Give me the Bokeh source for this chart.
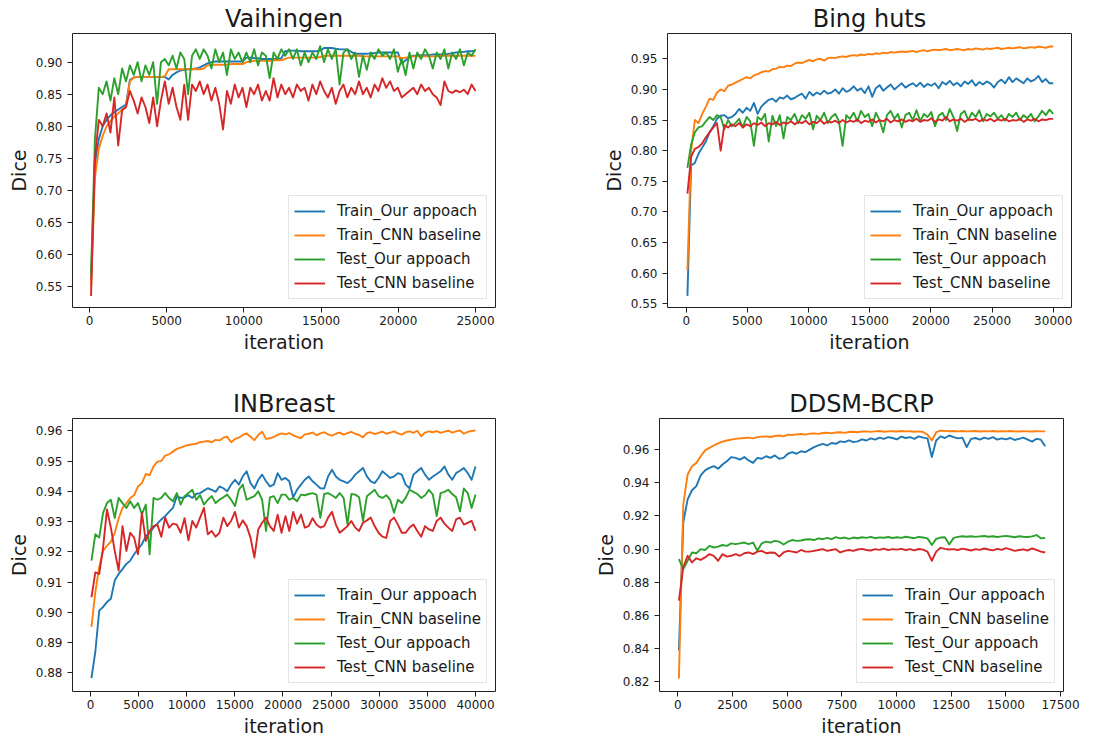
import numpy as np
from bokeh.plotting import figure
from bokeh.layouts import column, row
from bokeh.models import Range1d, FixedTicker, NumeralTickFormatter, Legend, LegendItem
from bokeh.embed import file_html
from bokeh.resources import INLINE

# ---------------- data ----------------
LABELS = ["Train_Our appoach", "Train_CNN baseline", "Test_Our appoach", "Test_CNN baseline"]
COLORS = ["#1f77b4", "#ff7f0e", "#2ca02c", "#d62728"]

# Vaihingen (iterations 100 .. 25000)
VAI_ITER = (100, 25000)
VAI_TRAIN_OUR = [0.56, 0.74, 0.78, 0.80, 0.81, 0.817, 0.822, 0.826, 0.83, 0.834,
                 0.872, 0.876, 0.877, 0.877, 0.877, 0.877, 0.877, 0.877, 0.877, 0.877,
                 0.873, 0.88, 0.884, 0.887, 0.888, 0.889, 0.889, 0.89, 0.892, 0.895,
                 0.898, 0.9, 0.901, 0.901, 0.901, 0.901, 0.901, 0.901, 0.901, 0.901,
                 0.907, 0.907, 0.906, 0.906, 0.905, 0.905, 0.905, 0.905, 0.905, 0.906,
                 0.917, 0.918, 0.918, 0.918, 0.917, 0.917, 0.917, 0.917, 0.917, 0.918,
                 0.922, 0.922, 0.922, 0.921, 0.92, 0.92, 0.92, 0.916, 0.913, 0.913,
                 0.913, 0.913, 0.914, 0.914, 0.915, 0.915, 0.915, 0.915, 0.915, 0.915,
                 0.898, 0.903, 0.908, 0.91, 0.91, 0.911, 0.911, 0.911, 0.912, 0.912,
                 0.912, 0.912, 0.913, 0.914, 0.915, 0.916, 0.916, 0.917, 0.917, 0.918]
VAI_TRAIN_CNN = [0.55, 0.72, 0.765, 0.785, 0.80, 0.808, 0.815, 0.82, 0.826, 0.83,
                 0.87, 0.876, 0.877, 0.877, 0.877, 0.877, 0.877, 0.877, 0.877, 0.878,
                 0.889, 0.889, 0.889, 0.889, 0.889, 0.889, 0.889, 0.889, 0.889, 0.89,
                 0.895, 0.896, 0.896, 0.896, 0.896, 0.896, 0.897, 0.897, 0.897, 0.897,
                 0.9, 0.901, 0.902, 0.902, 0.902, 0.902, 0.902, 0.903, 0.903, 0.903,
                 0.905, 0.907, 0.907, 0.907, 0.907, 0.907, 0.907, 0.907, 0.907, 0.908,
                 0.91, 0.91, 0.91, 0.91, 0.91, 0.91, 0.91, 0.91, 0.91, 0.91,
                 0.909, 0.909, 0.909, 0.909, 0.909, 0.909, 0.909, 0.909, 0.909, 0.909,
                 0.906, 0.907, 0.908, 0.909, 0.909, 0.909, 0.909, 0.909, 0.909, 0.909,
                 0.91, 0.91, 0.91, 0.91, 0.91, 0.91, 0.91, 0.91, 0.91, 0.91]
VAI_TEST_OUR = [0.57, 0.78, 0.86, 0.85, 0.87, 0.84, 0.875, 0.85, 0.89, 0.87,
                0.895, 0.88, 0.90, 0.87, 0.895, 0.88, 0.90, 0.835, 0.90, 0.905,
                0.895, 0.91, 0.89, 0.915, 0.905, 0.85, 0.91, 0.92, 0.905, 0.92,
                0.91, 0.89, 0.92, 0.90, 0.915, 0.88, 0.92, 0.905, 0.915, 0.90,
                0.915, 0.90, 0.92, 0.895, 0.915, 0.91, 0.875, 0.915, 0.905, 0.92,
                0.91, 0.92, 0.905, 0.92, 0.895, 0.915, 0.90, 0.915, 0.905, 0.925,
                0.90, 0.92, 0.905, 0.92, 0.865, 0.915, 0.92, 0.905, 0.915, 0.877,
                0.91, 0.888, 0.915, 0.905, 0.92, 0.91, 0.915, 0.905, 0.92, 0.885,
                0.905, 0.88, 0.915, 0.89, 0.915, 0.905, 0.92, 0.91, 0.89, 0.915,
                0.905, 0.92, 0.89, 0.915, 0.905, 0.92, 0.895, 0.915, 0.91, 0.92]
VAI_TEST_CNN = [0.535, 0.75, 0.81, 0.80, 0.82, 0.79, 0.845, 0.77, 0.825, 0.83,
                0.855, 0.84, 0.82, 0.845, 0.83, 0.805, 0.845, 0.80, 0.84, 0.87,
                0.835, 0.86, 0.83, 0.81, 0.865, 0.81, 0.865, 0.855, 0.87, 0.85,
                0.865, 0.84, 0.86, 0.835, 0.795, 0.855, 0.835, 0.865, 0.845, 0.86,
                0.83, 0.86, 0.85, 0.865, 0.84, 0.855, 0.84, 0.875, 0.845, 0.865,
                0.85, 0.86, 0.845, 0.865, 0.855, 0.86, 0.84, 0.865, 0.85, 0.87,
                0.855, 0.845, 0.86, 0.835, 0.855, 0.865, 0.845, 0.86, 0.85, 0.87,
                0.85, 0.86, 0.845, 0.865, 0.855, 0.875, 0.86, 0.87, 0.855, 0.86,
                0.845, 0.85, 0.855, 0.86, 0.85, 0.865, 0.855, 0.86, 0.85, 0.845,
                0.833, 0.87, 0.855, 0.852, 0.856, 0.853, 0.857, 0.85, 0.865, 0.855]

# Bing huts (iterations 100 .. 30000)
BING_ITER = (100, 30000)
BING_TRAIN_OUR = [0.563, 0.776, 0.78, 0.795, 0.805, 0.815, 0.83, 0.84, 0.852, 0.857,
                  0.858, 0.853, 0.855, 0.86, 0.868, 0.862, 0.87, 0.865, 0.878, 0.86,
                  0.872, 0.878, 0.883, 0.885, 0.88, 0.887, 0.885, 0.89, 0.884, 0.886,
                  0.89, 0.893, 0.885, 0.896, 0.89, 0.895, 0.892, 0.898, 0.893, 0.895,
                  0.9, 0.893, 0.902, 0.896, 0.899, 0.905, 0.898, 0.902, 0.894, 0.905,
                  0.888, 0.902, 0.907, 0.898, 0.903, 0.908, 0.9, 0.905, 0.91, 0.903,
                  0.907, 0.91, 0.905, 0.911, 0.904, 0.909, 0.906, 0.91, 0.902, 0.912,
                  0.908, 0.914, 0.907, 0.911, 0.905, 0.913, 0.909, 0.915, 0.906, 0.912,
                  0.908, 0.913, 0.91, 0.903, 0.912, 0.916, 0.91, 0.92, 0.912, 0.918,
                  0.914, 0.91, 0.918, 0.913, 0.916, 0.922, 0.912, 0.917, 0.91, 0.91]
BING_TRAIN_CNN = [0.605, 0.80, 0.85, 0.845, 0.86, 0.872, 0.885, 0.883, 0.895, 0.90,
                  0.897, 0.906, 0.908, 0.911, 0.914, 0.917, 0.92, 0.918, 0.923, 0.925,
                  0.928, 0.93, 0.929, 0.933, 0.934, 0.937, 0.936, 0.939, 0.938, 0.942,
                  0.944, 0.943, 0.946, 0.948, 0.946, 0.949, 0.95, 0.947, 0.951, 0.952,
                  0.951, 0.953, 0.954, 0.953, 0.955, 0.956, 0.955, 0.957, 0.956, 0.958,
                  0.957, 0.959, 0.958, 0.96, 0.959, 0.961, 0.96, 0.961, 0.962, 0.961,
                  0.962, 0.963, 0.961, 0.963, 0.964, 0.962, 0.964, 0.965, 0.964, 0.965,
                  0.966, 0.964, 0.965, 0.966, 0.965, 0.964, 0.966, 0.965, 0.967, 0.966,
                  0.965, 0.967, 0.966, 0.967, 0.968, 0.966, 0.967, 0.968, 0.967, 0.968,
                  0.969, 0.967, 0.968, 0.969, 0.968, 0.97, 0.969, 0.968, 0.97, 0.97]
BING_TEST_OUR = [0.772, 0.81, 0.83, 0.838, 0.84, 0.848, 0.855, 0.85, 0.858, 0.855,
                 0.835, 0.85, 0.84, 0.845, 0.852, 0.838, 0.855, 0.848, 0.808, 0.855,
                 0.85, 0.86, 0.815, 0.857, 0.84, 0.858, 0.82, 0.855, 0.85, 0.86,
                 0.845, 0.858, 0.852, 0.862, 0.835, 0.857, 0.85, 0.862, 0.845, 0.855,
                 0.86, 0.848, 0.808, 0.858, 0.852, 0.862, 0.848, 0.865, 0.855, 0.86,
                 0.84, 0.862, 0.85, 0.83, 0.858, 0.865, 0.852, 0.86, 0.838, 0.858,
                 0.862, 0.85, 0.866, 0.848, 0.86, 0.855, 0.863, 0.84, 0.857, 0.862,
                 0.85, 0.868, 0.855, 0.832, 0.86, 0.865, 0.85, 0.862, 0.855, 0.866,
                 0.848, 0.86, 0.856, 0.862, 0.852, 0.858, 0.849, 0.86, 0.855, 0.862,
                 0.85, 0.858, 0.853, 0.86, 0.848, 0.856, 0.865, 0.858, 0.867, 0.86]
BING_TEST_CNN = [0.73, 0.79, 0.803, 0.806, 0.812, 0.822, 0.83, 0.838, 0.845, 0.80,
                 0.842, 0.838, 0.843, 0.84, 0.845, 0.838, 0.843, 0.84, 0.845, 0.842,
                 0.846, 0.84, 0.845, 0.843, 0.847, 0.842, 0.846, 0.844, 0.848, 0.843,
                 0.847, 0.845, 0.849, 0.843, 0.847, 0.845, 0.85, 0.844, 0.848, 0.846,
                 0.849, 0.845, 0.85, 0.846, 0.849, 0.847, 0.851, 0.845, 0.849, 0.847,
                 0.851, 0.846, 0.85, 0.848, 0.852, 0.846, 0.85, 0.848, 0.851, 0.847,
                 0.85, 0.848, 0.852, 0.847, 0.85, 0.849, 0.853, 0.847, 0.851, 0.849,
                 0.855, 0.848, 0.851, 0.849, 0.852, 0.847, 0.851, 0.85, 0.852, 0.848,
                 0.851, 0.849, 0.852, 0.848, 0.851, 0.849, 0.852, 0.848, 0.85, 0.849,
                 0.852, 0.847, 0.851, 0.849, 0.852, 0.848, 0.851, 0.85, 0.852, 0.852]

# INBreast (iterations 100 .. 40000)
INB_ITER = (100, 40000)
INB_TRAIN_OUR = [0.8783, 0.887, 0.9006, 0.9018, 0.9034, 0.9045, 0.9105, 0.9127, 0.9143, 0.916,
                 0.9171, 0.9192, 0.9209, 0.9225, 0.9252, 0.9263, 0.928, 0.9293, 0.9307, 0.9318,
                 0.9332, 0.9345, 0.9384, 0.9378, 0.938, 0.9387, 0.9378, 0.9391, 0.9394, 0.9402,
                 0.941, 0.9405, 0.9398, 0.9416, 0.941, 0.94, 0.9422, 0.9438, 0.9422, 0.9449,
                 0.9466, 0.9427, 0.9409, 0.9438, 0.9455, 0.9433, 0.9416, 0.9422, 0.946, 0.9438,
                 0.9444, 0.9433, 0.938, 0.9405, 0.9422, 0.9438, 0.9449, 0.9433, 0.9422, 0.941,
                 0.9409, 0.9449, 0.9471, 0.9449, 0.9438, 0.9433, 0.9427, 0.9438, 0.9455, 0.9466,
                 0.9477, 0.9449, 0.9433, 0.9427, 0.9444, 0.9466, 0.9455, 0.9444, 0.9449, 0.946,
                 0.9455, 0.9422, 0.941, 0.9455, 0.9466, 0.9477, 0.9455, 0.9438, 0.9449, 0.9457,
                 0.9466, 0.9482, 0.9455, 0.9438, 0.946, 0.9468, 0.9477, 0.946, 0.9438, 0.9482]
INB_TRAIN_CNN = [0.8952, 0.9067, 0.915, 0.9203, 0.922, 0.9234, 0.9263, 0.931, 0.9345, 0.936,
                 0.9378, 0.9387, 0.9416, 0.9427, 0.9457, 0.9453, 0.9482, 0.9498, 0.95, 0.9518,
                 0.9522, 0.9531, 0.954, 0.9544, 0.9549, 0.9553, 0.9555, 0.9557, 0.9562, 0.9564,
                 0.9566, 0.9562, 0.957, 0.9568, 0.9577, 0.958, 0.9562, 0.9573, 0.9577, 0.9586,
                 0.9591, 0.958, 0.9569, 0.9586, 0.9597, 0.9573, 0.9575, 0.958, 0.9586, 0.9591,
                 0.9588, 0.9592, 0.9585, 0.958, 0.9576, 0.9588, 0.959, 0.9594, 0.9585, 0.9591,
                 0.9595, 0.9588, 0.9584, 0.959, 0.9594, 0.9587, 0.9592, 0.9596, 0.959, 0.9586,
                 0.9578, 0.9592, 0.9595, 0.9589, 0.9593, 0.9597, 0.959, 0.9594, 0.9598, 0.9591,
                 0.9587, 0.9595, 0.9598, 0.9593, 0.96, 0.9582, 0.9594, 0.9598, 0.9595, 0.9599,
                 0.9593, 0.9597, 0.96, 0.9594, 0.9598, 0.9601, 0.959, 0.9596, 0.9599, 0.9601]
INB_TEST_OUR = [0.9171, 0.9258, 0.9247, 0.9329, 0.9361, 0.9372, 0.9312, 0.9378, 0.9361, 0.9345,
                0.9367, 0.9345, 0.9361, 0.9324, 0.9356, 0.9192, 0.9378, 0.9372, 0.9378, 0.9394,
                0.9378, 0.9367, 0.9394, 0.9356, 0.9384, 0.9394, 0.9405, 0.9372, 0.9387, 0.9356,
                0.9372, 0.9384, 0.9361, 0.9372, 0.938, 0.9389, 0.9372, 0.9351, 0.9405, 0.9422,
                0.9372, 0.9378, 0.9384, 0.94, 0.9372, 0.9269, 0.938, 0.9384, 0.9361, 0.9389,
                0.9389, 0.9372, 0.9378, 0.9367, 0.9389, 0.9387, 0.9391, 0.9394, 0.9389, 0.9312,
                0.9391, 0.9394, 0.9387, 0.9378, 0.9394, 0.9378, 0.9291, 0.9391, 0.9389, 0.938,
                0.9302, 0.9384, 0.9394, 0.9405, 0.9384, 0.9378, 0.9387, 0.9372, 0.9329, 0.9372,
                0.9361, 0.9378, 0.9405, 0.9398, 0.9391, 0.9378, 0.9387, 0.9405, 0.9389, 0.9318,
                0.9394, 0.9398, 0.9405, 0.9391, 0.938, 0.9334, 0.9409, 0.9394, 0.9345, 0.9389]
INB_TEST_CNN = [0.905, 0.9132, 0.9127, 0.9214, 0.934, 0.928, 0.9203, 0.9138, 0.9285, 0.9203,
                0.9263, 0.9247, 0.9192, 0.9329, 0.9236, 0.9269, 0.9285, 0.929, 0.925, 0.9313,
                0.928, 0.9293, 0.929, 0.9263, 0.9311, 0.9238, 0.9302, 0.928, 0.9313, 0.9345,
                0.9258, 0.9269, 0.925, 0.9263, 0.9313, 0.9285, 0.9302, 0.9332, 0.928, 0.9304,
                0.9285, 0.9247, 0.9181, 0.9274, 0.9296, 0.9313, 0.9285, 0.9269, 0.9323, 0.9263,
                0.9318, 0.9269, 0.9332, 0.9293, 0.9323, 0.928, 0.9285, 0.9311, 0.929, 0.928,
                0.9285, 0.9313, 0.9332, 0.929, 0.9263, 0.9274, 0.9285, 0.9302, 0.928, 0.9269,
                0.9296, 0.9304, 0.9313, 0.9285, 0.9263, 0.925, 0.9246, 0.9302, 0.9313, 0.929,
                0.9263, 0.9263, 0.928, 0.929, 0.9269, 0.925, 0.9285, 0.9274, 0.9269, 0.9302,
                0.9313, 0.9293, 0.928, 0.9269, 0.9307, 0.9313, 0.929, 0.9296, 0.9302, 0.9269]

# DDSM-BCRP (iterations 50 .. 16800)
DDSM_ITER = (50, 16800)
DDSM_TRAIN_OUR = [0.839, 0.916, 0.93, 0.9355, 0.938, 0.9445, 0.9475, 0.949, 0.95, 0.9485,
                  0.951, 0.953, 0.9555, 0.955, 0.954, 0.9555, 0.9535, 0.952, 0.955, 0.9545,
                  0.956, 0.955, 0.9565, 0.9545, 0.955, 0.9575, 0.9585, 0.9575, 0.959, 0.9585,
                  0.96, 0.9615, 0.9625, 0.9635, 0.9625, 0.964, 0.9635, 0.965, 0.9645, 0.9655,
                  0.9645, 0.965, 0.9662, 0.9655, 0.9668, 0.966, 0.9672, 0.9665, 0.9675, 0.967,
                  0.9662, 0.9678, 0.967, 0.9675, 0.9665, 0.968, 0.9672, 0.9668, 0.9555, 0.9655,
                  0.968, 0.967, 0.9685, 0.9675, 0.9668, 0.9672, 0.9615, 0.9665, 0.967, 0.966,
                  0.9672, 0.9665, 0.9675, 0.966, 0.9668, 0.9662, 0.967, 0.9658, 0.9665, 0.9672,
                  0.966, 0.9648, 0.9665, 0.966, 0.962]
DDSM_TRAIN_CNN = [0.822, 0.927, 0.945, 0.95, 0.952, 0.956, 0.9595, 0.961, 0.9625, 0.9638,
                  0.9648, 0.9655, 0.966, 0.9665, 0.9668, 0.967, 0.9672, 0.9668, 0.9675, 0.9678,
                  0.968, 0.9676, 0.9682, 0.9685, 0.968, 0.969, 0.9688, 0.9692, 0.9694, 0.969,
                  0.9696, 0.9698, 0.9695, 0.97, 0.9702, 0.9698, 0.9703, 0.9705, 0.9701, 0.9706,
                  0.9708, 0.9705, 0.9709, 0.971, 0.9707, 0.971, 0.9712, 0.9708, 0.971, 0.9711,
                  0.9709, 0.9712, 0.971, 0.9711, 0.9708, 0.971, 0.9706, 0.969, 0.9655, 0.9705,
                  0.9714, 0.9713, 0.9711, 0.9712, 0.971, 0.9712, 0.971, 0.9711, 0.9712, 0.9709,
                  0.9711, 0.971, 0.9712, 0.9709, 0.9711, 0.971, 0.9712, 0.971, 0.9709, 0.9711,
                  0.971, 0.9709, 0.9711, 0.971, 0.971]
DDSM_TEST_OUR = [0.894, 0.888, 0.893, 0.898, 0.8975, 0.9, 0.8995, 0.902, 0.901, 0.9015,
                 0.9025, 0.902, 0.9035, 0.903, 0.9035, 0.904, 0.903, 0.904, 0.899, 0.9035,
                 0.9045, 0.904, 0.905, 0.9045, 0.9028, 0.9045, 0.9055, 0.905, 0.9052, 0.9058,
                 0.906, 0.9055, 0.9065, 0.906, 0.9068, 0.906, 0.9072, 0.9065, 0.907, 0.9062,
                 0.907, 0.9066, 0.9072, 0.9068, 0.9074, 0.9066, 0.9071, 0.9069, 0.9073, 0.9067,
                 0.9072, 0.9068, 0.9075, 0.907, 0.9066, 0.9074, 0.907, 0.9065, 0.9025, 0.9062,
                 0.907, 0.9072, 0.9028, 0.9068, 0.9074, 0.9078, 0.9075, 0.9078, 0.9074, 0.9077,
                 0.9079, 0.9075, 0.9078, 0.9073, 0.9077, 0.908, 0.9076, 0.9072, 0.9078, 0.9075,
                 0.9073, 0.9077, 0.9085, 0.9065, 0.9068]
DDSM_TEST_CNN = [0.869, 0.889, 0.896, 0.892, 0.8945, 0.8935, 0.895, 0.897, 0.896, 0.893,
                 0.897, 0.8955, 0.896, 0.897, 0.896, 0.8975, 0.898, 0.897, 0.8985, 0.899,
                 0.8975, 0.898, 0.8978, 0.8955, 0.898, 0.899, 0.8985, 0.898, 0.8995, 0.8985,
                 0.8985, 0.899, 0.8995, 0.9, 0.899, 0.8995, 0.9, 0.898, 0.899, 0.8995,
                 0.899, 0.8998, 0.9002, 0.8995, 0.8992, 0.9, 0.8996, 0.9003, 0.8994, 0.9,
                 0.8997, 0.9002, 0.8995, 0.9, 0.8993, 0.9001, 0.8997, 0.8985, 0.893, 0.8985,
                 0.9008, 0.9002, 0.8998, 0.9, 0.8995, 0.9003, 0.8998, 0.8992, 0.9, 0.8996,
                 0.9004, 0.8998, 0.8993, 0.9002, 0.8996, 0.9006, 0.8999, 0.899, 0.8995, 0.8999,
                 0.8992, 0.9004, 0.8996, 0.8985, 0.898]

# tick values
VAI_XTICKS = [0, 5000, 10000, 15000, 20000, 25000]
VAI_YTICKS = [0.55, 0.60, 0.65, 0.70, 0.75, 0.80, 0.85, 0.90]
BING_XTICKS = [0, 5000, 10000, 15000, 20000, 25000, 30000]
BING_YTICKS = [0.55, 0.60, 0.65, 0.70, 0.75, 0.80, 0.85, 0.90, 0.95]
INB_XTICKS = [0, 5000, 10000, 15000, 20000, 25000, 30000, 35000, 40000]
INB_YTICKS = [0.88, 0.89, 0.90, 0.91, 0.92, 0.93, 0.94, 0.95, 0.96]
DDSM_XTICKS = [0, 2500, 5000, 7500, 10000, 12500, 15000, 17500]
DDSM_YTICKS = [0.82, 0.84, 0.86, 0.88, 0.90, 0.92, 0.94, 0.96]

FONT = "DejaVu Sans"
TXT = "#1a1a1a"


def panel(title, iters, series, xr, yr, xticks, yticks, w, h, bl, br, bt, bb):
    p = figure(width=w, height=h, output_backend="svg", toolbar_location=None,
               x_range=Range1d(*xr), y_range=Range1d(*yr),
               min_border_left=bl, min_border_right=br,
               min_border_top=bt, min_border_bottom=bb)
    p.title.text = title
    p.title.text_font = FONT
    p.title.text_font_size = "24px"
    p.title.text_font_style = "normal"
    p.title.text_color = TXT
    p.title.align = "center"
    p.title.standoff = 2
    p.grid.visible = False
    p.outline_line_color = "#222222"
    p.outline_line_width = 1
    p.background_fill_color = "white"
    p.border_fill_color = "white"

    p.xaxis.ticker = FixedTicker(ticks=xticks)
    p.yaxis.ticker = FixedTicker(ticks=yticks)
    p.xaxis.formatter = NumeralTickFormatter(format="0")
    p.yaxis.formatter = NumeralTickFormatter(format="0.00")
    for ax in (p.xaxis[0], p.yaxis[0]):
        ax.axis_line_color = None
        ax.major_tick_line_color = "#222222"
        ax.major_tick_out = 5
        ax.major_tick_in = 0
        ax.minor_tick_line_color = None
        ax.major_label_text_font = FONT
        ax.major_label_text_font_size = "12px"
        ax.major_label_text_color = TXT
        ax.axis_label_text_font = FONT
        ax.axis_label_text_font_size = "19px"
        ax.axis_label_text_font_style = "normal"
        ax.axis_label_text_color = TXT
    p.xaxis.axis_label = "iteration"
    p.yaxis.axis_label = "Dice"
    p.xaxis.major_label_standoff = 3
    p.xaxis.axis_label_standoff = 3
    p.yaxis.major_label_standoff = 5
    p.yaxis.axis_label_standoff = 3

    items = []
    for lab, col, vals in zip(LABELS, COLORS, series):
        xs = np.linspace(iters[0], iters[1], len(vals))
        r = p.line(xs, vals, line_color=col, line_width=1.9, line_join="round")
        items.append(LegendItem(label=lab, renderers=[r]))
    leg = Legend(items=items, location="bottom_right")
    leg.label_text_font = FONT
    leg.label_text_font_size = "15px"
    leg.label_text_color = TXT
    leg.glyph_width = 31
    leg.glyph_height = 20
    leg.label_height = 20
    leg.label_standoff = 12
    leg.spacing = 4
    leg.padding = 5
    leg.margin = 8
    leg.border_line_color = "#cccccc"
    leg.border_line_width = 1
    leg.background_fill_alpha = 0.85
    p.add_layout(leg)
    return p


TOP_H = 375
BOT_H = 364
LEFT_W = 560
RIGHT_W = 548
p1 = panel("Vaihingen", VAI_ITER,
           [VAI_TRAIN_OUR, VAI_TRAIN_CNN, VAI_TEST_OUR, VAI_TEST_CNN],
           (-1101, 26295), (0.5172, 0.9447), VAI_XTICKS, VAI_YTICKS,
           LEFT_W, TOP_H, 72, 65, 33, 68)
p2 = panel("Bing huts", BING_ITER,
           [BING_TRAIN_OUR, BING_TRAIN_CNN, BING_TEST_OUR, BING_TEST_CNN],
           (-1529, 31496), (0.544, 0.9913), BING_XTICKS, BING_YTICKS,
           RIGHT_W, TOP_H, 107, 37, 33, 68)
p3 = panel("INBreast", INB_ITER,
           [INB_TRAIN_OUR, INB_TRAIN_CNN, INB_TEST_OUR, INB_TEST_CNN],
           (-1870, 42078), (0.87387, 0.96404), INB_XTICKS, INB_YTICKS,
           LEFT_W, BOT_H, 72, 65, 43, 46)
p4 = panel("DDSM-BCRP", DDSM_ITER,
           [DDSM_TRAIN_OUR, DDSM_TRAIN_CNN, DDSM_TEST_OUR, DDSM_TEST_CNN],
           (-837, 17637), (0.8142, 0.97875), DDSM_XTICKS, DDSM_YTICKS,
           RIGHT_W, BOT_H, 99, 45, 43, 46)

layout = column(row(p1, p2), row(p3, p4))
open("out.html", "w").write(file_html(layout, INLINE))
